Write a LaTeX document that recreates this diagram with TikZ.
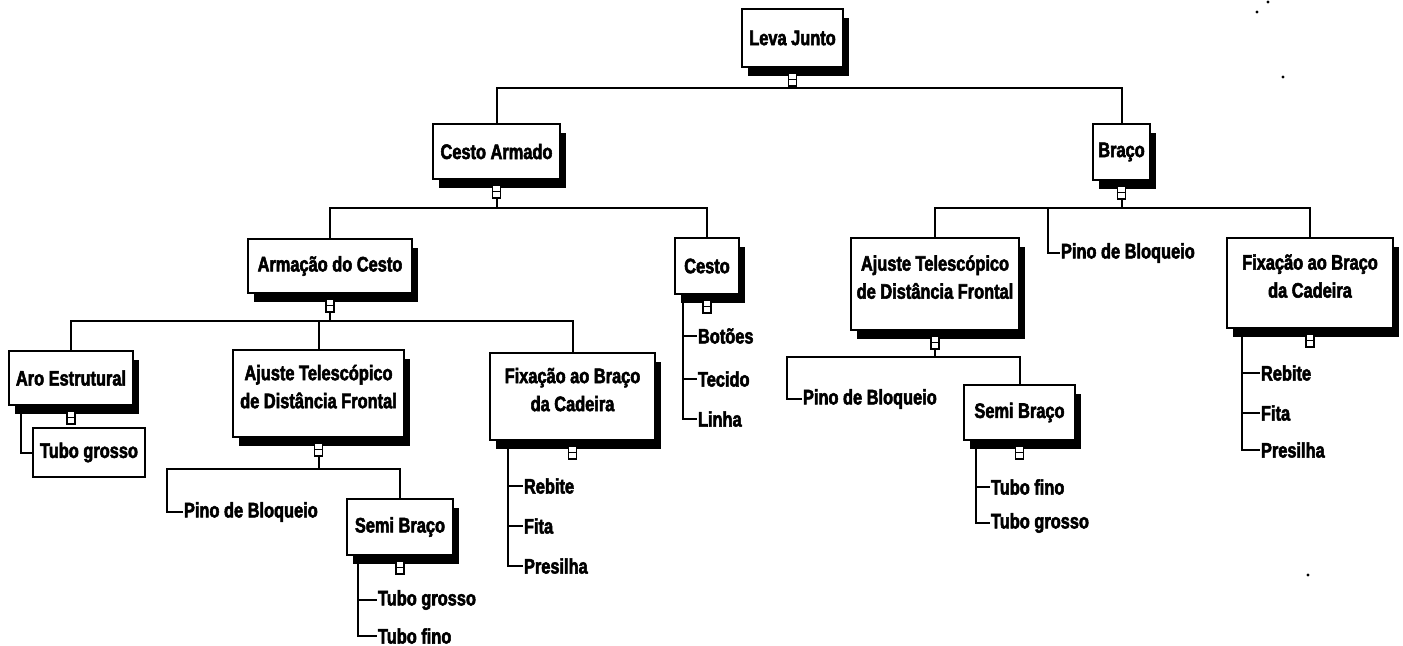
\documentclass[tikz,border=0pt]{standalone}
\usepackage{fontspec}
\newfontfamily\lab{Liberation Sans}[FakeStretch=0.78,BoldFeatures={FakeBold=2.5}]
\usetikzlibrary{shadows}
\newcommand\nodeicon[1]{%
  \draw[fill=white,line width=0.8pt] ([xshift=-2pt,yshift=-2.5pt]#1.south) rectangle ([xshift=2pt,yshift=-9pt]#1.south);
  \draw[line width=0.8pt] ([xshift=-2pt,yshift=-5.75pt]#1.south) -- ([xshift=2pt,yshift=-5.75pt]#1.south);}
\begin{document}
\begin{tikzpicture}[x=0.5pt,y=-0.5pt,line width=1pt,
  txt/.style={font=\lab\bfseries\fontsize{10.5}{14}\selectfont},
  wh/.style 2 args={minimum width=#1*0.5pt, minimum height=#2*0.5pt},
  plainbox/.style={txt, draw, fill=white, line width=1pt, align=center, inner sep=0pt},
  box/.style={plainbox, general shadow={fill=black, shadow xshift=3pt, shadow yshift=-4.5pt}},
  leaf/.style={txt, anchor=west, inner sep=0pt}]
\useasboundingbox (0,0) rectangle (1403,645);
% boxes
\node[box, wh={101}{58}] (lj) at (792.5,38) {Leva Junto};
\node[box, wh={127}{55}] (ca) at (496.5,151.5) {Cesto Armado};
\node[box, wh={57}{56}] (br) at (1121.5,152) {Braço};
\node[box, wh={164}{54}] (ac) at (330,266) {Armação do Cesto};
\node[box, wh={64}{56}] (ce) at (707,266) {Cesto};
\node[box, wh={124}{54}] (ae) at (71,378) {Aro Estrutural};
\node[plainbox, wh={112}{49}] (tg1) at (89,452.5) {Tubo grosso};
\node[box, wh={171}{87}] (aj1) at (318.5,393.5) {Ajuste Telescópico\\de Distância Frontal\\[-7pt]};
\node[box, wh={165}{87}] (fx1) at (572.5,396.5) {Fixação ao Braço\\da Cadeira\\[-7pt]};
\node[box, wh={106}{56}] (sb1) at (400,527) {Semi Braço};
\node[box, wh={168}{92}] (aj2) at (935,284) {Ajuste Telescópico\\de Distância Frontal\\[-7pt]};
\node[box, wh={166}{90}] (fx2) at (1310,283) {Fixação ao Braço\\da Cadeira\\[-7pt]};
\node[box, wh={111}{55}] (sb2) at (1019.5,412.5) {Semi Braço};
% leaves
\node[leaf] (bot) at (697,336) {Botões};
\node[leaf] (tec) at (697,379) {Tecido};
\node[leaf] (lin) at (697,419) {Linha};
\node[leaf] (reb1) at (523,486) {Rebite};
\node[leaf] (fit1) at (523,526) {Fita};
\node[leaf] (pre1) at (523,566) {Presilha};
\node[leaf] (pin1) at (183,512) {Pino de Bloqueio};
\node[leaf] (tgA) at (377,600) {Tubo grosso};
\node[leaf] (tfA) at (377,636) {Tubo fino};
\node[leaf] (pin2) at (802,399) {Pino de Bloqueio};
\node[leaf] (tfB) at (990,487) {Tubo fino};
\node[leaf] (tgB) at (990,523) {Tubo grosso};
\node[leaf] (reb2) at (1260,373) {Rebite};
\node[leaf] (fit2) at (1260,413) {Fita};
\node[leaf] (pre2) at (1260,450) {Presilha};
\node[leaf] (pin3) at (1060,253) {Pino de Bloqueio};
% bar levels
\coordinate (y0) at (0,88);
\coordinate (y1) at (0,208);
\coordinate (y2) at (0,321);
\coordinate (y3) at (0,469);
\coordinate (y4) at (0,357);
\coordinate (p1) at (167,469);
\coordinate (p2) at (787,357);
\coordinate (p3) at (1048,208);
% tree connectors
\draw ([yshift=-9pt]lj.south) -- (lj.south |- y0);
\draw (ca.north) |- (lj.south |- y0) -| (br.north);
\draw ([yshift=-9pt]ca.south) -- (ca.south |- y1);
\draw (ac.north) |- (ca.south |- y1) -| (ce.north);
\draw ([yshift=-9pt]br.south) -- (br.south |- y1);
\draw (aj2.north) |- (br.south |- y1) -| (fx2.north);
\draw (p3) |- (pin3.west);
\draw ([yshift=-9pt]ac.south) -- (ac.south |- y2);
\draw (ae.north) |- (ac.south |- y2) -| (fx1.north);
\draw (aj1.north) -- (aj1.north |- y2);
\draw ([yshift=-9pt]aj1.south) -- (aj1.south |- y3);
\draw (pin1.west) -| (p1) -- (sb1.north |- y3) -- (sb1.north);
\draw ([yshift=-9pt]aj2.south) -- (aj2.south |- y4);
\draw (pin2.west) -| (p2) -- (sb2.north |- y4) -- (sb2.north);
% hanging connectors
\draw ([xshift=6.5pt]ae.south west) |- (tg1.west);
\draw ([xshift=4.5pt]ce.south west) |- (lin.west);
\draw ([xshift=4.5pt]ce.south west |- bot.west) -- (bot.west);
\draw ([xshift=4.5pt]ce.south west |- tec.west) -- (tec.west);
\draw ([xshift=9.5pt]fx1.south west) |- (pre1.west);
\draw ([xshift=9.5pt]fx1.south west |- reb1.west) -- (reb1.west);
\draw ([xshift=9.5pt]fx1.south west |- fit1.west) -- (fit1.west);
\draw ([xshift=6pt]sb1.south west) |- (tfA.west);
\draw ([xshift=6pt]sb1.south west |- tgA.west) -- (tgA.west);
\draw ([xshift=6.5pt]sb2.south west) |- (tgB.west);
\draw ([xshift=6.5pt]sb2.south west |- tfB.west) -- (tfB.west);
\draw ([xshift=8pt]fx2.south west) |- (pre2.west);
\draw ([xshift=8pt]fx2.south west |- reb2.west) -- (reb2.west);
\draw ([xshift=8pt]fx2.south west |- fit2.west) -- (fit2.west);
% icons
\nodeicon{lj}\nodeicon{ca}\nodeicon{br}\nodeicon{ac}\nodeicon{ce}\nodeicon{ae}
\nodeicon{aj1}\nodeicon{fx1}\nodeicon{sb1}\nodeicon{aj2}\nodeicon{fx2}\nodeicon{sb2}
% stray dots
\fill (1268,2) circle (0.8pt);
\fill (1257,12) circle (0.8pt);
\fill (1283,77) circle (0.8pt);
\fill (1308,575) circle (0.8pt);
\end{tikzpicture}
\end{document}
